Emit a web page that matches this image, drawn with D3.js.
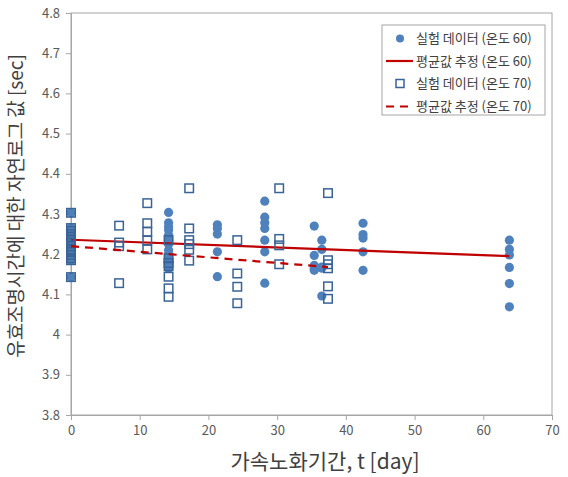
<!DOCTYPE html>
<html><head><meta charset="utf-8">
<script src="https://cdn.jsdelivr.net/npm/d3@7"></script>
<style>
html,body{margin:0;padding:0;background:#fff;}
svg{display:block;font-family:"Noto Sans CJK KR","Noto Sans",sans-serif;}
</style></head>
<body>
<svg id="c" width="568" height="477"></svg>
<script>
// ---- data ----
const xTicks = [0,10,20,30,40,50,60,70];
const yTicks = [3.8,3.9,4.0,4.1,4.2,4.3,4.4,4.5,4.6,4.7,4.8];
const yTickLabels = ["3.8","3.9","4","4.1","4.2","4.3","4.4","4.5","4.6","4.7","4.8"];
const t0Values = [4.303,4.265,4.258,4.25,4.243,4.235,4.228,4.22,4.212,4.205,4.198,4.19,4.185,4.143];
// 온도 60 (circles): [t, values]
const exp60Days = [0, 14.2, 21.3, 28.2, 35.4, 36.5, 42.5, 63.8];
const exp60Values = [
  t0Values,
  [4.304,4.278,4.268,4.26,4.248,4.235,4.225,4.21,4.2,4.19,4.18,4.165],
  [4.273,4.264,4.25,4.206,4.144],
  [4.332,4.292,4.278,4.264,4.235,4.206,4.128],
  [4.27,4.197,4.172,4.165,4.16],
  [4.235,4.212,4.168,4.165,4.096],
  [4.277,4.249,4.24,4.206,4.16],
  [4.235,4.212,4.198,4.167,4.127,4.069]
];
// 온도 70 (squares)
const exp70Days = [0, 7, 11.1, 14.2, 17.2, 24.2, 30.3, 37.4];
const exp70Values = [
  t0Values,
  [4.271,4.229,4.22,4.128],
  [4.327,4.277,4.256,4.234,4.212],
  [4.235,4.19,4.178,4.17,4.144,4.115,4.094],
  [4.364,4.264,4.235,4.225,4.211,4.184],
  [4.235,4.152,4.119,4.078],
  [4.364,4.238,4.222,4.175],
  [4.352,4.185,4.175,4.165,4.12,4.089]
];
const fit60 = [[0,4.236],[63.8,4.195]];
const fit70 = [[0,4.220],[37.4,4.168]];
const legendLabels = ["실험 데이터 (온도 60)","평균값 추정 (온도 60)","실험 데이터 (온도 70)","평균값 추정 (온도 70)"];
const xTitle = "가속노화기간, t [day]";
const yTitle = "유효조명시간에 대한 자연로그 값 [sec]";

// ---- drawing ----
const svg = d3.select("#c");
const L=71, R=552, T=13, B=415;
const x = d3.scaleLinear().domain([0,70]).range([L,R]);
const y = d3.scaleLinear().domain([3.8,4.8]).range([B,T]);
const axisCol = "#a6a6a6", textCol = "#595959";
const blue = "#4f81bd", sqBlue = "#3a6396", red = "#c00000";

svg.append("rect").attr("x",L).attr("y",T).attr("width",R-L).attr("height",B-T)
  .attr("fill","none").attr("stroke",axisCol).attr("stroke-width",1);

const xAxis = svg.append("g").attr("transform",`translate(0,${B})`)
  .call(d3.axisBottom(x).tickValues(xTicks).tickSize(5).tickPadding(6).tickFormat(d3.format("d")));
const yAxis = svg.append("g").attr("transform",`translate(${L},0)`)
  .call(d3.axisLeft(y).tickValues(yTicks).tickSize(5).tickPadding(6)
    .tickFormat((d,i)=>yTickLabels[i]));
[xAxis,yAxis].forEach(g=>{
  g.select(".domain").attr("stroke",axisCol);
  g.selectAll(".tick line").attr("stroke",axisCol);
  g.selectAll("text").attr("fill",textCol).style("font-size","13px")
    .style("font-family","'Noto Sans CJK KR','Noto Sans',sans-serif");
});

const pts60 = exp60Days.flatMap((t,i)=>exp60Values[i].map(v=>[t,v]));
const pts70 = exp70Days.flatMap((t,i)=>exp70Values[i].map(v=>[t,v]));
const line = d3.line().x(d=>x(d[0])).y(d=>y(d[1]));

svg.append("g").selectAll("circle").data(pts60).join("circle")
  .attr("cx",d=>x(d[0])).attr("cy",d=>y(d[1])).attr("r",4.6).attr("fill",blue);
svg.append("path").datum(fit60).attr("d",line).attr("fill","none")
  .attr("stroke",red).attr("stroke-width",2.2);
const s=8.5;
svg.append("g").selectAll("rect").data(pts70).join("rect")
  .attr("x",d=>x(d[0])-s/2).attr("y",d=>y(d[1])-s/2).attr("width",s).attr("height",s)
  .attr("fill","none").attr("stroke",sqBlue).attr("stroke-width",1.5);
svg.append("path").datum(fit70).attr("d",line).attr("fill","none")
  .attr("stroke",red).attr("stroke-width",2.2).attr("stroke-dasharray","8,6");

// legend
const lg = svg.append("g");
lg.append("rect").attr("x",382).attr("y",25).attr("width",163).attr("height",90)
  .attr("fill","#fff").attr("stroke",axisCol);
const ly = [38.5,61,83.5,106.5];
lg.append("circle").attr("cx",400).attr("cy",ly[0]).attr("r",4).attr("fill",blue);
lg.append("line").attr("x1",386).attr("x2",413).attr("y1",ly[1]).attr("y2",ly[1])
  .attr("stroke",red).attr("stroke-width",2.2);
lg.append("rect").attr("x",400-4).attr("y",ly[2]-4).attr("width",8).attr("height",8)
  .attr("fill","none").attr("stroke",sqBlue).attr("stroke-width",1.5);
lg.append("line").attr("x1",386).attr("x2",413).attr("y1",ly[3]).attr("y2",ly[3])
  .attr("stroke",red).attr("stroke-width",2.2).attr("stroke-dasharray","8,6");
lg.selectAll("text.l").data(legendLabels).join("text").attr("class","l")
  .attr("x",416).attr("y",(d,i)=>ly[i]).attr("dy","0.35em")
  .attr("fill","#404040").style("font-size","13px").text(d=>d);

// titles
svg.append("text").attr("x",325).attr("y",469).attr("text-anchor","middle")
  .attr("fill","#404040").style("font-size","21px").text(xTitle);
svg.append("text").attr("transform","translate(23,206) rotate(-90)").attr("text-anchor","middle")
  .attr("fill","#404040").style("font-size","19px").text(yTitle);
</script>
</body></html>
